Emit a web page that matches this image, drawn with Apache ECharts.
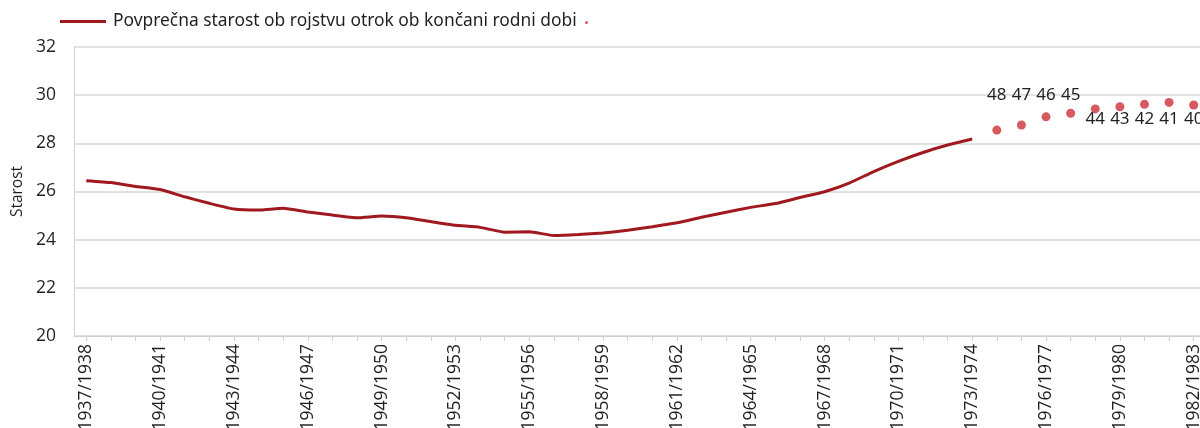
<!DOCTYPE html>
<html>
<head>
<meta charset="utf-8">
<script src="https://cdn.jsdelivr.net/npm/echarts@6/dist/echarts.min.js"></script>
<style>
  html, body { margin: 0; padding: 0; background: #fff; }
  #chart { width: 1200px; height: 428px; }
</style>
</head>
<body>
<div id="chart"></div>
<script>
// leta (kategorije na osi x)
const years = [
    '1937/1938', '1938/1939', '1939/1940', '1940/1941', '1941/1942', '1942/1943',
    '1943/1944', '1944/1945', '1945/1946', '1946/1947', '1947/1948', '1948/1949',
    '1949/1950', '1950/1951', '1951/1952', '1952/1953', '1953/1954', '1954/1955',
    '1955/1956', '1956/1957', '1957/1958', '1958/1959', '1959/1960', '1960/1961',
    '1961/1962', '1962/1963', '1963/1964', '1964/1965', '1965/1966', '1966/1967',
    '1967/1968', '1968/1969', '1969/1970', '1970/1971', '1971/1972', '1972/1973',
    '1973/1974', '1974/1975', '1975/1976', '1976/1977', '1977/1978', '1978/1979',
    '1979/1980', '1980/1981', '1981/1982', '1982/1983'
];
// povprečna starost ob rojstvu otrok (končana rodna doba)
const avgAge = [
    26.45, 26.37, 26.21, 26.08, 25.78, 25.51, 25.27, 25.23, 25.30, 25.15,
    25.02, 24.91, 24.98, 24.91, 24.75, 24.60, 24.51, 24.31, 24.33, 24.17,
    24.21, 24.28, 24.39, 24.54, 24.70, 24.93, 25.14, 25.34, 25.50, 25.75,
    25.99, 26.35, 26.83, 27.25, 27.62, 27.93, 28.18
];
// generacije, ki še niso končale rodne dobe
const partialYears = [
    '1974/1975', '1975/1976', '1976/1977', '1977/1978', '1978/1979',
    '1979/1980', '1980/1981', '1981/1982', '1982/1983'
];
const partialAge = [28.55, 28.76, 29.10, 29.25, 29.43, 29.52, 29.62, 29.70, 29.59];
const currentAge = [48, 47, 46, 45, 44, 43, 42, 41, 40];
const yTicks = [20, 22, 24, 26, 28, 30, 32];

const lineName = 'Povprečna starost ob rojstvu otrok ob končani rodni dobi';
const dotName = ' ';

const chart = echarts.init(document.getElementById('chart'));

const option = {
    animation: false,
    textStyle: { fontFamily: '"Open Sans", sans-serif', color: '#231f20' },
    grid: { left: 74, right: -6, top: 47, bottom: 92, containLabel: false, outerBoundsMode: 'none' },
    legend: [
        {
            data: [{ name: lineName, icon: 'rect' }],
            left: 55, top: 8,
            itemWidth: 46, itemHeight: 3, itemGap: 4,
            textStyle: { fontFamily: '"Noto Sans", sans-serif', fontSize: 17.4, color: '#231f20', padding: [0, 0, 0, 2] }
        },
        {
            data: [{ name: dotName, icon: 'circle' }],
            left: 580, top: 16,
            itemWidth: 3, itemHeight: 3,
            textStyle: { fontSize: 1 }
        }
    ],
    xAxis: {
        type: 'category',
        data: years,
        boundaryGap: true,
        axisLine: { lineStyle: { color: '#d0d0d0', width: 1 } },
        axisTick: { show: true, alignWithLabel: true, interval: 0, length: 5, lineStyle: { color: '#d0d0d0' } },
        axisLabel: { interval: 2, rotate: 90, margin: 8, fontSize: 17.5, color: '#231f20' }
    },
    yAxis: {
        type: 'value',
        min: yTicks[0],
        max: yTicks[yTicks.length - 1],
        interval: 2,
        name: 'Starost',
        nameLocation: 'middle',
        nameRotate: 90,
        nameGap: 48,
        nameTextStyle: { fontSize: 15.5, color: '#231f20' },
        axisLine: { show: true, lineStyle: { color: '#d0d0d0' } },
        axisTick: { show: false },
        axisLabel: { margin: 18, fontSize: 17.5, color: '#231f20' },
        splitLine: { lineStyle: { color: '#d9d9d9', width: 1.5 } }
    },
    series: [
        {
            name: lineName,
            type: 'line',
            data: avgAge,
            symbol: 'none',
            smooth: 0.15,
            lineStyle: { color: '#a0191f', width: 3 },
            itemStyle: { color: '#a0191f' }
        },
        {
            name: dotName,
            type: 'scatter',
            data: partialYears.map((y, i) => [y, partialAge[i]]),
            symbolSize: 9,
            itemStyle: { color: '#d75a5f', opacity: 1 },
            label: {
                show: true,
                formatter: p => String(currentAge[p.dataIndex]),
                fontFamily: '"Noto Sans", sans-serif',
                fontSize: 17,
                color: '#231f20',
                textBorderWidth: 0
            },
            labelLayout: p => {
                const v = p.dataIndex < 4 ? 30 : 29;
                const y = chart.convertToPixel({ yAxisIndex: 0 }, v);
                return { y: y, verticalAlign: 'middle', align: 'center', x: p.rect.x + p.rect.width / 2 };
            }
        }
    ]
};

chart.setOption(option);
</script>
</body>
</html>
